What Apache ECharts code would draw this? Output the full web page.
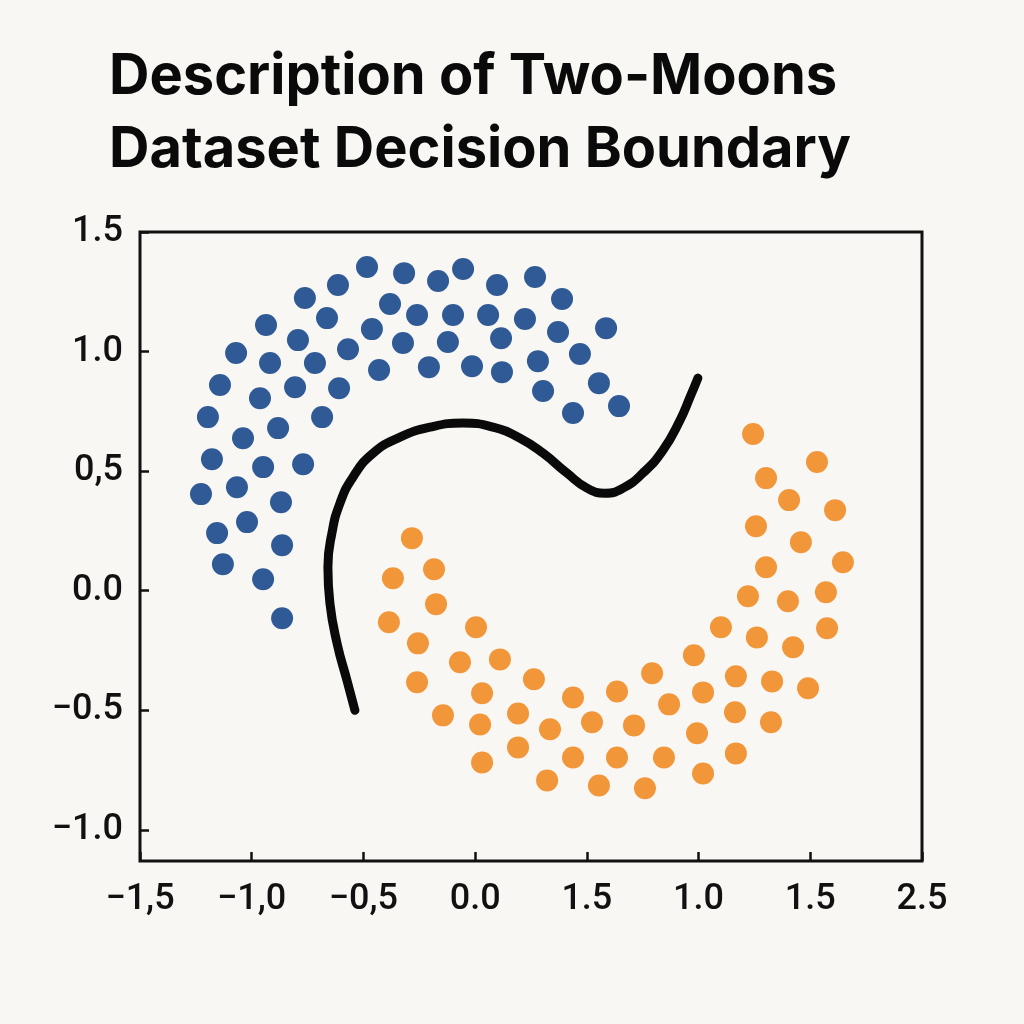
<!DOCTYPE html>
<html>
<head>
<meta charset="utf-8">
<script src="https://cdn.jsdelivr.net/npm/echarts@6/dist/echarts.min.js"></script>
<style>
html,body{margin:0;padding:0;background:#f9f7f3;}
#chart{width:1024px;height:1024px;}
</style>
</head>
<body>
<div id="chart"></div>
<script>
const titleText = "Description of Two-Moons\nDataset Decision Boundary";

const xTickValues = [-1.5, -1.0, -0.5, 0.0, 0.5, 1.0, 1.5, 2.0];
const xTickLabels = ["\u22121,5", "\u22121,0", "\u22120,5", "0.0", "1.5", "1.0", "1.5", "2.5"];
const yTickValues = [-1.0, -0.5, 0.0, 0.5, 1.0, 1.5];
const yTickLabels = ["\u22121.0", "\u22120.5", "0.0", "0,5", "1.0", "1.5"];

const blueX = [-0.484,-0.614,-0.762,-0.663,-0.936,-0.793,-1.070,-0.918,-0.717,-0.569,
  -0.462,-0.381,-0.318,-0.323,-0.430,-1.142,-0.963,-0.806,-0.609,-1.196,
  -0.685,-1.039,-0.882,-0.166,-0.054,0.098,0.268,0.389,-0.260,-0.099,
  0.058,0.223,0.371,0.586,-0.122,0.116,0.469,-0.207,-0.014,0.120,
  0.281,0.554,0.304,0.438,0.644,-1.178,-0.949,-0.770,-1.227,-1.066,
  -0.869,-1.155,-1.021,-0.864,-1.129,-0.949,-0.864];
const blueY = [1.354,1.278,1.224,1.140,1.111,1.048,0.994,0.952,0.952,1.010,
  1.094,1.199,1.328,1.036,0.923,0.860,0.805,0.851,0.847,0.726,
  0.726,0.638,0.680,1.295,1.345,1.278,1.312,1.220,1.153,1.153,
  1.153,1.136,1.082,1.098,1.040,1.056,0.990,0.935,0.939,0.914,
  0.960,0.868,0.835,0.743,0.772,0.550,0.517,0.529,0.404,0.433,
  0.370,0.241,0.287,0.190,0.111,0.048,-0.115];

const orangeX = [-0.283,-0.368,-0.184,-0.175,-0.386,0.004,-0.256,-0.068,0.111,-0.260,
  0.031,0.263,0.438,0.635,-0.144,0.022,0.192,0.335,0.523,0.192,
  0.031,0.438,0.322,0.554,0.760,0.635,0.711,0.792,0.868,0.845,
  0.979,1.020,0.993,1.020,1.100,1.167,1.163,1.167,1.261,1.329,
  1.324,1.423,1.490,1.575,1.244,1.530,1.302,1.405,1.611,1.257,
  1.458,1.646,1.302,1.221,1.400,1.570];
const orangeY = [0.220,0.052,0.090,-0.056,-0.132,-0.153,-0.220,-0.299,-0.287,-0.383,
  -0.429,-0.370,-0.446,-0.421,-0.521,-0.559,-0.513,-0.579,-0.550,-0.655,
  -0.718,-0.697,-0.793,-0.814,-0.826,-0.697,-0.563,-0.345,-0.475,-0.697,
  -0.270,-0.425,-0.596,-0.764,-0.153,-0.358,-0.508,-0.680,-0.195,-0.379,
  -0.550,-0.236,-0.408,-0.157,0.655,0.538,0.471,0.379,0.337,0.270,
  0.203,0.119,0.098,-0.023,-0.044,-0.006];

const boundaryX = [-0.538,-0.574,-0.618,-0.650,-0.659,-0.641,-0.605,-0.547,-0.457,-0.336,
  -0.202,-0.054,0.080,0.201,0.304,0.411,0.501,0.581,0.662,0.751,
  0.841,0.917,0.962,0.997];
const boundaryY = [-0.500,-0.374,-0.220,-0.052,0.098,0.241,0.366,0.475,0.575,0.642,
  0.684,0.701,0.684,0.638,0.575,0.492,0.429,0.408,0.429,0.492,
  0.588,0.713,0.810,0.889];

function zip(a, b) { return a.map((v, i) => [v, b[i]]); }
function lookup(vals, labels, v) {
  for (let i = 0; i < vals.length; i++) {
    if (Math.abs(vals[i] - v) < 1e-6) return labels[i];
  }
  return '';
}

const chart = echarts.init(document.getElementById('chart'));
const labelFont = 'Roboto, "Liberation Sans", sans-serif';
chart.setOption({
  backgroundColor: '#f9f7f3',
  animation: false,
  title: {
    text: titleText,
    left: 104,
    top: 36,
    textStyle: {
      fontFamily: 'Inter, "Noto Sans", sans-serif',
      fontWeight: 'bold',
      fontSize: 56,
      lineHeight: 73,
      color: '#0a0a0a'
    }
  },
  grid: {
    left: 140, right: 102, top: 232, bottom: 163,
    show: true, borderColor: '#111', borderWidth: 3, backgroundColor: 'transparent'
  },
  xAxis: {
    type: 'value',
    min: -1.5, max: 2.0, interval: 0.5,
    splitLine: { show: false },
    axisLine: { show: false, onZero: false },
    axisTick: { show: true, inside: true, length: 9, lineStyle: { color: '#111', width: 2.5 } },
    axisLabel: {
      margin: 21,
      fontFamily: labelFont, fontSize: 36, fontWeight: 500, color: '#111',
      formatter: v => lookup(xTickValues, xTickLabels, v)
    }
  },
  yAxis: {
    type: 'value',
    min: -1.13, max: 1.5,
    splitNumber: 5,
    splitLine: { show: false },
    axisLine: { show: false, onZero: false },
    axisTick: { show: true, inside: true, length: 9, lineStyle: { color: '#111', width: 2.5 } },
    axisLabel: {
      margin: 17, showMinLabel: false,
      fontFamily: labelFont, fontSize: 36, fontWeight: 500, color: '#111',
      formatter: v => lookup(yTickValues, yTickLabels, v)
    }
  },
  series: [
    {
      type: 'scatter', name: 'Class 0',
      data: zip(blueX, blueY),
      symbolSize: 22,
      itemStyle: { color: '#2f5a95', opacity: 1 }
    },
    {
      type: 'scatter', name: 'Class 1',
      data: zip(orangeX, orangeY),
      symbolSize: 22,
      itemStyle: { color: '#f2963a', opacity: 1 }
    },
    {
      type: 'line', name: 'Decision boundary',
      data: zip(boundaryX, boundaryY),
      smooth: 0.5,
      showSymbol: false,
      lineStyle: { color: '#0a0a0a', width: 9, cap: 'round', join: 'round' },
      z: 3
    }
  ]
});
</script>
</body>
</html>
